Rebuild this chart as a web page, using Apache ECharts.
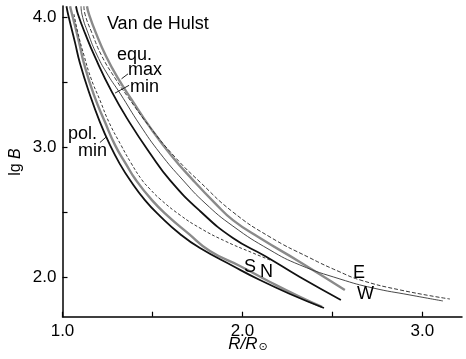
<!DOCTYPE html>
<html><head><meta charset="utf-8">
<script src="https://cdn.jsdelivr.net/npm/echarts@6/dist/echarts.min.js"></script>
<style>html,body{margin:0;padding:0;background:#fff}#c{width:466px;height:359px}</style>
</head><body><div id="c"></div>
<script>
// tick positions / labels
const xTicks = [1.0, 1.5, 2.0, 2.5, 3.0];
const xLabels = [1.0, 2.0, 3.0];
const yTicks = [2.0, 2.5, 3.0, 3.5, 4.0];
const yLabels = [2.0, 3.0, 4.0];

// curves: [R/Rsun, lg B]
const polBlack = [[1.022,4.088],[1.031,4.027],[1.069,3.812],[1.097,3.650],[1.153,3.404],[1.208,3.197],[1.264,3.020],[1.319,2.874],[1.375,2.751],[1.458,2.597],[1.542,2.474],[1.653,2.336],[1.764,2.228],[1.947,2.090],[2.097,1.982],[2.264,1.875],[2.453,1.767]];
const polGrey = [[1.042,4.088],[1.053,4.027],[1.092,3.812],[1.119,3.650],[1.175,3.404],[1.236,3.197],[1.292,3.020],[1.353,2.874],[1.408,2.751],[1.497,2.597],[1.586,2.474],[1.697,2.343],[1.819,2.205],[1.986,2.090],[2.153,1.967],[2.319,1.852],[2.442,1.775]];
const polDash = [[1.064,4.027],[1.086,3.881],[1.119,3.712],[1.158,3.535],[1.208,3.366],[1.258,3.197],[1.325,3.020],[1.381,2.882],[1.442,2.751],[1.486,2.682],[1.542,2.605],[1.653,2.482],[1.764,2.382],[1.903,2.282],[2.058,2.190],[2.153,2.136]];
const equBlack = [[1.075,4.088],[1.086,4.027],[1.125,3.881],[1.181,3.696],[1.275,3.427],[1.375,3.189],[1.486,2.958],[1.597,2.751],[1.764,2.513],[1.947,2.305],[2.125,2.167],[2.319,2.005],[2.547,1.829]];
const equGrey = [[1.136,4.088],[1.147,4.027],[1.186,3.881],[1.242,3.704],[1.308,3.535],[1.386,3.366],[1.486,3.158],[1.608,2.935],[1.725,2.751],[1.847,2.574],[1.947,2.443],[2.097,2.305],[2.319,2.121],[2.569,1.906]];
const lineE = [[1.119,4.088],[1.125,4.027],[1.164,3.881],[1.219,3.704],[1.292,3.535],[1.364,3.389],[1.486,3.158],[1.625,2.928],[1.764,2.736],[1.947,2.505],[2.153,2.313],[2.375,2.152],[2.542,2.044],[2.653,1.983],[2.875,1.906],[3.153,1.836]];
const lineW = [[1.103,4.088],[1.108,4.027],[1.142,3.881],[1.192,3.712],[1.253,3.558],[1.319,3.420],[1.431,3.174],[1.542,2.958],[1.669,2.751],[1.792,2.574],[1.947,2.397],[2.153,2.213],[2.319,2.098],[2.542,1.990],[2.725,1.921],[2.931,1.867],[3.114,1.821]];

// annotations: [x, y(center), text]
const notes = [[1.247,3.950,'Van de Hulst'],[1.303,3.712,'equ.'],[1.364,3.596,'max'],[1.375,3.469,'min'],[1.031,3.108,'pol.'],[1.086,2.978,'min'],[2.008,2.082,'S'],[2.097,2.044,'N'],[2.614,2.036,'E'],[2.636,1.875,'W']];
const leaders = [[[1.364,3.568],[1.328,3.530]],[[1.370,3.480],[1.292,3.420]],[[1.208,3.040],[1.245,3.085]]];

const FONT = 'Liberation Sans, Arial, sans-serif';
const chart = echarts.init(document.getElementById('c'));
const line = (data, color, width, type, z) => ({type:'line', data, showSymbol:false, smooth:0.5, silent:true,
  clip:true, lineStyle:{color, width, type: type||'solid'}, z: z||3});
const series = [
  line(polGrey,'#8a8a8a',2.4,null,2), line(polBlack,'#111',1.8), line(polDash,'#222',0.9,[3,2]),
  line(equGrey,'#8a8a8a',2.4,null,2), line(equBlack,'#111',1.8), line(lineE,'#222',0.9,[4,2]), line(lineW,'#333',0.9)
];
leaders.forEach(l=>series.push({type:'line', data:l, showSymbol:false, silent:true, lineStyle:{color:'#222', width:1}}));
chart.setOption({
  animation:false,
  grid:{left:62.5, right:4, top:6, bottom:42.3, outerBoundsMode:'none', containLabel:false},
  xAxis:{type:'value', min:1.0, max:3.22,
    axisLine:{lineStyle:{color:'#000', width:1.5}},
    axisTick:{inside:true, length:5, customValues:xTicks, lineStyle:{color:'#000', width:1.2}},
    axisLabel:{customValues:xLabels, formatter:v=>v.toFixed(1), color:'#000', fontSize:17, fontFamily:FONT, margin:6},
    splitLine:{show:false}},
  yAxis:{type:'value', min:1.7, max:4.09,
    axisLine:{show:true, lineStyle:{color:'#000', width:1.5}},
    axisTick:{show:true, inside:true, length:5, customValues:yTicks, lineStyle:{color:'#000', width:1.2}},
    axisLabel:{customValues:yLabels, formatter:v=>v.toFixed(1), color:'#000', fontSize:17, fontFamily:FONT, margin:6},
    splitLine:{show:false}},
  series
});
const graphic = notes.map(n => {
  const p = chart.convertToPixel({gridIndex:0}, [n[0], n[1]]);
  return {type:'text', x:p[0], y:p[1], silent:true, z:10,
    style:{text:n[2], fill:'#000', font:'18px ' + FONT, textAlign:'left', textVerticalAlign:'middle'}};
});
graphic.push({type:'text', x:248, y:344, silent:true,
  style:{text:'{i|R/R}{s|⊙}', textAlign:'center', textVerticalAlign:'middle',
    rich:{i:{fontStyle:'italic', fontSize:17, fontFamily:FONT, fill:'#000'}, s:{fontSize:11, fontFamily:'DejaVu Sans', fill:'#000', padding:[7,0,0,1]}}}});
graphic.push({type:'text', x:16, y:162, rotation:Math.PI/2, silent:true,
  style:{text:'{r|lg }{i|B}', textAlign:'center', textVerticalAlign:'middle',
    rich:{r:{fontSize:16, fontFamily:FONT, fill:'#000'}, i:{fontStyle:'italic', fontSize:16, fontFamily:FONT, fill:'#000'}}}});
chart.setOption({graphic});
</script></body></html>
